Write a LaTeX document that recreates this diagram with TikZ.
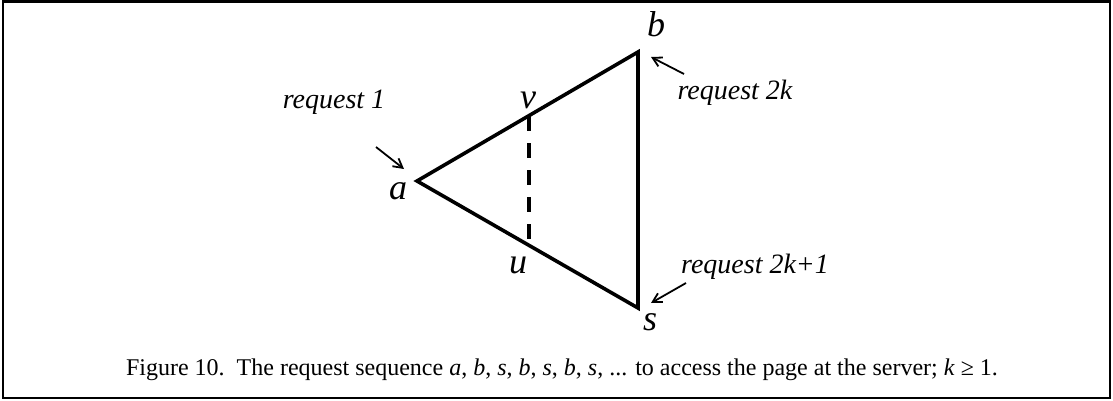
\documentclass[tikz,border=0pt]{standalone}
\usepackage{fontspec}
\setmainfont{Liberation Serif}
\usetikzlibrary{arrows.meta}
\begin{document}
\begin{tikzpicture}[x=1pt,y=-1pt,
  edge/.style={line width=3.6pt,line join=miter},
  dashedge/.style={line width=3.6pt,dash pattern=on 15pt off 12pt},
  vlabel/.style={font=\fontsize{36}{36}\selectfont\itshape,inner sep=0pt},
  reqlabel/.style={font=\fontsize{28}{28}\selectfont\itshape,inner sep=0pt},
  pointer/.style={line width=1.8pt,-{Straight Barb[length=9pt,width=10pt]}}]
\useasboundingbox (0,0) rectangle (1113,401);
\draw[line width=2.2pt] (3,1.5) rectangle (1110,398);
% vertices
\coordinate (a) at (417,181);
\coordinate (b) at (638,52);
\coordinate (s) at (638,308);
\coordinate (v) at (529,116);
\coordinate (u) at (529,246);
\draw[edge] (b) -- (a) -- (s) -- cycle;
\draw[dashedge] (v) -- (u);
% vertex labels
\node[vlabel] (la) at (398,191) {a};
\node[vlabel] (lb) at (656,24) {b};
\node[vlabel] (lv) at (528,100) {v};
\node[vlabel] (lu) at (518,265) {u};
\node[vlabel] (ls) at (650,322) {s};
% request labels
\node[reqlabel] (r1) at (334,102) {request 1};
\node[reqlabel] (r2) at (735,93) {request 2k};
\node[reqlabel] (r3) at (755,267) {request 2k+1};
\coordinate (r1s) at (376,147);
\coordinate (r1e) at (404,169);
\coordinate (r2s) at (684,74);
\coordinate (r2e) at (651,57);
\coordinate (r3s) at (686,283);
\coordinate (r3e) at (651,303);
\draw[pointer] (r1s) -- (r1e);
\draw[pointer] (r2s) -- (r2e);
\draw[pointer] (r3s) -- (r3e);
% caption
\node[font=\fontsize{24}{24}\selectfont,inner sep=0pt] (cap) at (562,370)
  {Figure 10.\ \ The request sequence \textit{a}, \textit{b}, \textit{s}, \textit{b}, \textit{s}, \textit{b}, \textit{s}, ... to access the page at the server; \textit{k} ≥ 1.};
\end{tikzpicture}
\end{document}
